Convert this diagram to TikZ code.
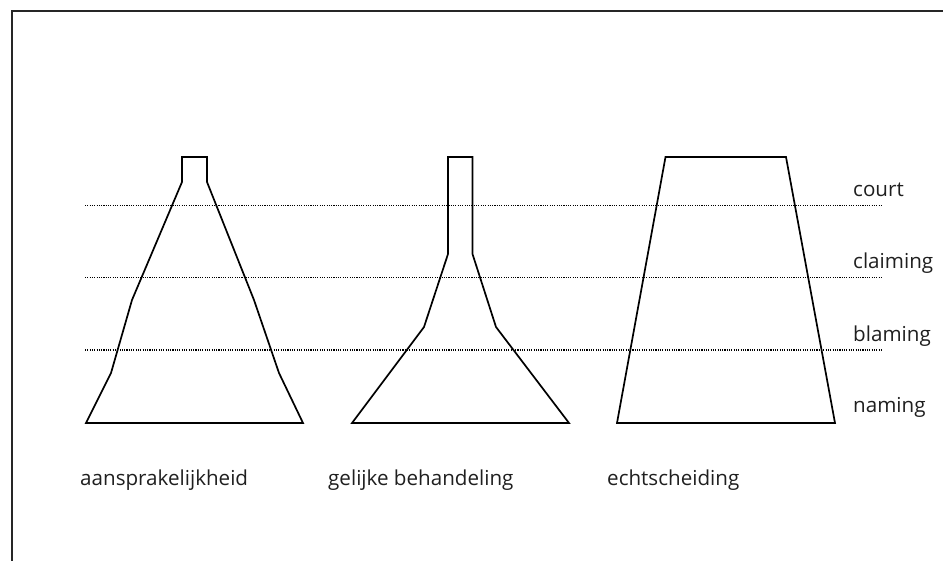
\documentclass[tikz,border=0pt]{standalone}
\usepackage{fontspec}
\setmainfont{Open Sans}
\begin{document}
\begin{tikzpicture}[x=1pt,y=-1pt,
  shapeline/.style={line width=1.7pt, line join=miter, black},
  levelline/.style={line width=1.1pt, dash pattern=on 1.1pt off 1.2pt, black},
  lbl/.style={font=\fontsize{20.6}{24}\selectfont, inner sep=0pt, anchor=base west, text=black!88},
  framebox/.style={line width=1.6pt, black!85}]
\useasboundingbox (0,0) rectangle (943,560);
\clip (0,0) rectangle (943,560);
\draw[framebox] (12,11) rectangle (960,580);
% level lines
\coordinate (c1) at (85,205.5); \coordinate (c2) at (883,205.5);
\coordinate (k1) at (85,277.5); \coordinate (k2) at (883,277.5);
\coordinate (b1) at (85,350);   \coordinate (b2) at (883,350);
\draw[levelline] (c1) -- (c2);
\draw[levelline] (k1) -- (k2);
\draw[levelline] (b1) -- (b2);
% shape 1
\draw[shapeline] (86,423) -- (111,373) -- (132,300) -- (182,182) -- (182,157) -- (207,157) -- (207,182) -- (254,300) -- (279,373) -- (303,423) -- cycle;
% shape 2
\draw[shapeline] (352,423) -- (424,327) -- (448,254) -- (448,157) -- (472.5,157) -- (472.5,254) -- (496,327) -- (569,423) -- cycle;
% shape 3
\draw[shapeline] (617,423) -- (665.5,157) -- (786,157) -- (835,423) -- cycle;
% labels
\node[lbl] (court) at (853,196) {court};
\node[lbl] (claiming) at (853,268) {claiming};
\node[lbl] (blaming) at (853,341.5) {blaming};
\node[lbl] (naming) at (853,412.5) {naming};
\node[lbl] (aansp) at (80,485) {aansprakelijkheid};
\node[lbl] (gelijk) at (328,485) {gelijke behandeling};
\node[lbl] (echt) at (607,485) {echtscheiding};
\end{tikzpicture}
\end{document}
